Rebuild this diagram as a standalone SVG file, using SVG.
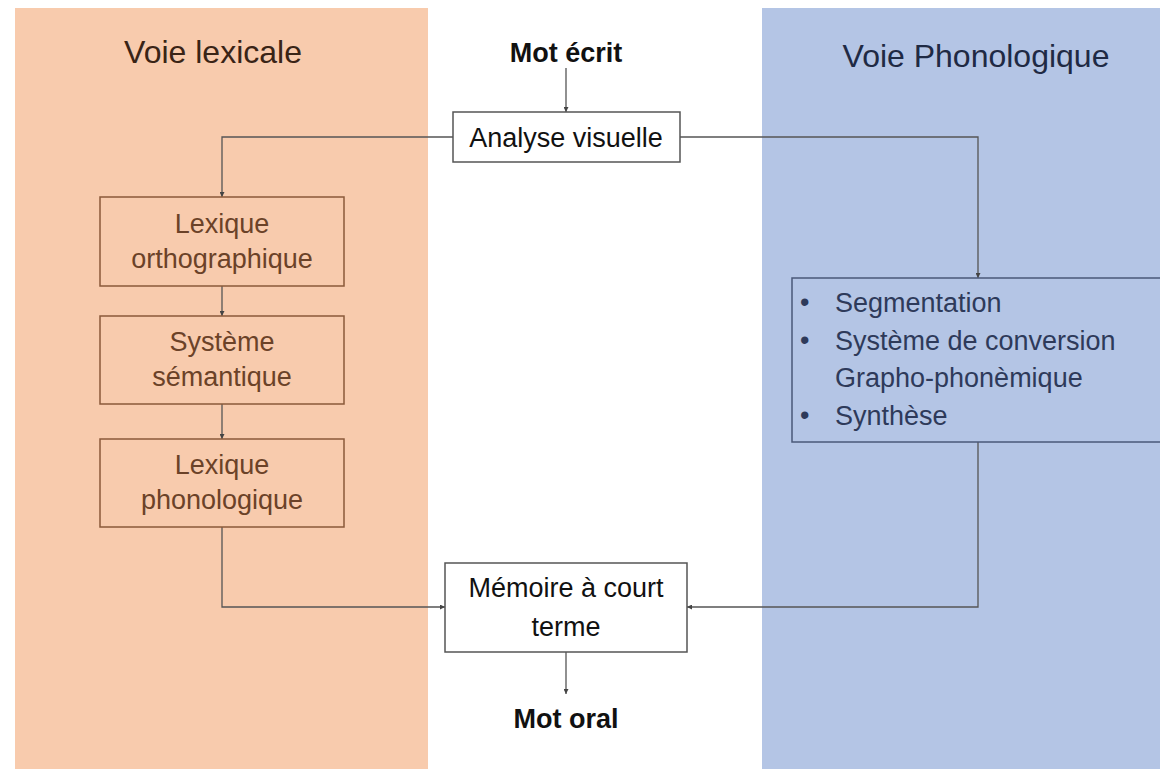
<svg xmlns="http://www.w3.org/2000/svg" width="1160" height="769" viewBox="0 0 1160 769">
<style>
text{font-family:"Liberation Sans",Arial,sans-serif;text-anchor:middle}
.title{font-size:32px}
.lex{font-size:27px;fill:#6b4228}
.pho{font-size:27px;fill:#2e3a5a;text-anchor:start}
.blk{font-size:27px;fill:#111}
.bold{font-size:27px;font-weight:bold;fill:#111}
.obox{fill:none;stroke:#8a5a3a;stroke-width:1.5}
.bbox{fill:none;stroke:#4a5878;stroke-width:1.5}
.wbox{fill:#fff;stroke:#555;stroke-width:1.5}
.conn{fill:none;stroke:#555;stroke-width:1.3}
</style>
<defs>
<marker id="arr" viewBox="0 0 6 6" refX="6" refY="3" markerWidth="5" markerHeight="5" orient="auto" markerUnits="userSpaceOnUse">
<path d="M0,0 L6,3 L0,6 z" fill="#444"/>
</marker>
</defs>
<rect width="1160" height="769" fill="#fff"/>
<g id="panel-lexicale">
<rect x="15" y="8" width="413" height="761" fill="#f8cbad"/>
<text class="title" x="213" y="63" fill="#3a2416">Voie lexicale</text>
</g>
<g id="panel-phonologique">
<rect x="762" y="8" width="398" height="761" fill="#b4c5e5"/>
<text class="title" x="976" y="67" fill="#1f2a44">Voie Phonologique</text>
</g>
<g id="connectors">
<path class="conn" d="M566,68 V112" marker-end="url(#arr)"/>
<path class="conn" d="M453,137 H222 V197" marker-end="url(#arr)"/>
<path class="conn" d="M680,137 H978 V278" marker-end="url(#arr)"/>
<path class="conn" d="M222,286 V316" marker-end="url(#arr)"/>
<path class="conn" d="M222,404 V439" marker-end="url(#arr)"/>
<path class="conn" d="M222,527 V607 H445" marker-end="url(#arr)"/>
<path class="conn" d="M978,442 V607 H687" marker-end="url(#arr)"/>
<path class="conn" d="M566,652 V694" marker-end="url(#arr)"/>
</g>
<g id="mot-ecrit"><text class="bold" x="566" y="62">Mot écrit</text></g>
<g id="analyse-visuelle">
<rect class="wbox" x="453" y="112" width="227" height="50"/>
<text class="blk" x="566" y="147">Analyse visuelle</text>
</g>
<g id="lexique-orthographique">
<rect class="obox" x="100" y="197" width="244" height="89"/>
<text class="lex" x="222" y="233">Lexique</text>
<text class="lex" x="222" y="268">orthographique</text>
</g>
<g id="systeme-semantique">
<rect class="obox" x="100" y="316" width="244" height="88"/>
<text class="lex" x="222" y="351">Système</text>
<text class="lex" x="222" y="386">sémantique</text>
</g>
<g id="lexique-phonologique">
<rect class="obox" x="100" y="439" width="244" height="88"/>
<text class="lex" x="222" y="474">Lexique</text>
<text class="lex" x="222" y="509">phonologique</text>
</g>
<g id="voie-phono-box">
<rect class="bbox" x="792" y="278" width="372" height="164"/>
<text class="pho" x="800" y="311">•</text>
<text class="pho" x="835" y="312">Segmentation</text>
<text class="pho" x="800" y="349">•</text>
<text class="pho" x="835" y="350">Système de conversion</text>
<text class="pho" x="835" y="387">Grapho-phonèmique</text>
<text class="pho" x="800" y="424">•</text>
<text class="pho" x="835" y="425">Synthèse</text>
</g>
<g id="memoire">
<rect class="wbox" x="445" y="563" width="242" height="89"/>
<text class="blk" x="566" y="597">Mémoire à court</text>
<text class="blk" x="566" y="636">terme</text>
</g>
<g id="mot-oral"><text class="bold" x="566" y="728">Mot oral</text></g>
</svg>
